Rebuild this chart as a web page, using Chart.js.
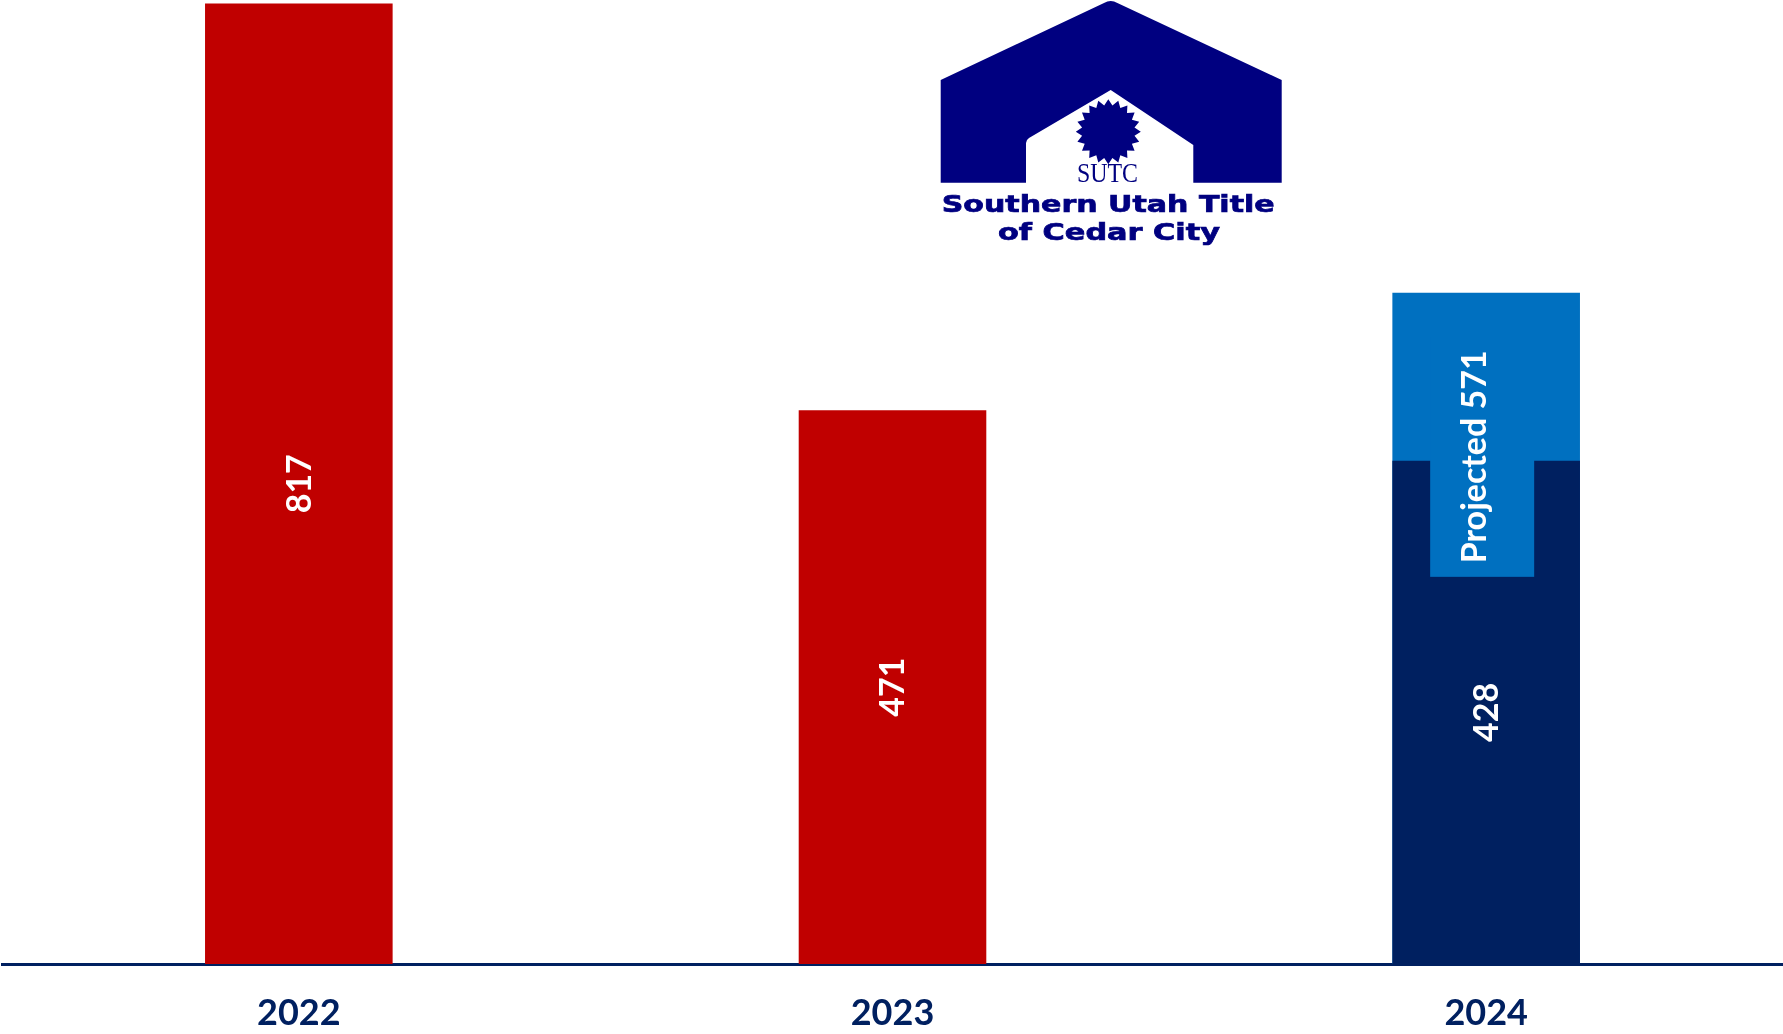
<!DOCTYPE html>
<html>
<head>
<meta charset="utf-8">
<title>Southern Utah Title - closings</title>
<script src="https://cdn.jsdelivr.net/npm/chart.js@4.4.1/dist/chart.umd.min.js"></script>
<style>
html, body { margin: 0; padding: 0; background: #fff; }
#wrap { position: relative; width: 1783px; height: 1034px; }
#logo { position: absolute; left: 0; top: 0; pointer-events: none; }
</style>
</head>
<body>
<div id="wrap">
<canvas id="bar-chart"></canvas>
<svg id="logo" width="1783" height="1034" xmlns="http://www.w3.org/2000/svg">
  <path fill="#000080" d="M940.7,182.7 L940.7,80 L1104,3 Q1110.7,-1 1117.4,3 L1281.7,80 L1281.7,182.7 L1193.3,182.7 L1193.3,145 L1110.7,90 L1029,138 Q1026,140 1026,143 L1026,182.7 Z"/>
  <polygon id="sun" fill="#000080"/>
  <text x="1077" y="181.5" font-family="Liberation Serif, serif" font-size="28" fill="#000080" textLength="61" lengthAdjust="spacingAndGlyphs">SUTC</text>
  <text x="941.7" y="211.5" font-family="DejaVu Sans, sans-serif" font-weight="bold" font-size="23" fill="#000080" stroke="#000080" stroke-width="0.7" textLength="333" lengthAdjust="spacingAndGlyphs">Southern Utah Title</text>
  <text x="998" y="239.5" font-family="DejaVu Sans, sans-serif" font-weight="bold" font-size="23" fill="#000080" stroke="#000080" stroke-width="0.7" textLength="222" lengthAdjust="spacingAndGlyphs">of Cedar City</text>
</svg>
</div>
<script>
// closings per year
var years = ["2022", "2023", "2024"];
var closings = [817, 471, 428];
var projected = [null, null, 571];
var projectedText = "Projected 571";

var red = "#C00000";
var navy = "#002060";
var blue = "#0070C0";

// sun in the logo
(function () {
  var pts = [], n = 20, cx = 1108.3, cy = 131.7;
  for (var i = 0; i < n * 2; i++) {
    var r = i % 2 ? 26.5 : 32.5;
    var a = Math.PI * i / n;
    pts.push((cx + r * Math.sin(a)).toFixed(1) + "," + (cy - r * Math.cos(a)).toFixed(1));
  }
  document.getElementById("sun").setAttribute("points", pts.join(" "));
})();

var labelFont = "bold 34px Lato, 'Open Sans', sans-serif";

var barLabels = {
  id: "barLabels",
  afterDatasetsDraw: function (chart) {
    var ctx = chart.ctx;
    var actual = chart.getDatasetMeta(0).data;
    var proj = chart.getDatasetMeta(1).data;
    ctx.save();
    ctx.font = labelFont;
    ctx.fillStyle = "#fff";
    ctx.textAlign = "center";
    ctx.textBaseline = "middle";

    // projected label sits on top of the actual bar, with its own box
    proj.forEach(function (bar, i) {
      if (projected[i] == null) return;
      var cy = actual[i].y - 4;
      ctx.fillStyle = blue;
      ctx.fillRect(bar.x - 56, cy - 120, 104, 240);
      ctx.fillStyle = "#fff";
      ctx.save();
      ctx.translate(bar.x - 11, cy);
      ctx.rotate(-Math.PI / 2);
      ctx.fillText(projectedText, 0, 0);
      ctx.restore();
    });

    actual.forEach(function (bar, i) {
      ctx.save();
      ctx.translate(bar.x + 1, (bar.y + bar.base) / 2);
      ctx.rotate(-Math.PI / 2);
      ctx.fillText(String(closings[i]), 0, 0);
      ctx.restore();
    });
    ctx.restore();
  }
};

var ctx = document.getElementById("bar-chart");
var chartGraph = new Chart(ctx, {
  type: "bar",
  data: {
    labels: years,
    datasets: [{
      label: "Closings",
      data: closings,
      backgroundColor: [red, red, navy],
      borderWidth: 0
    }, {
      label: "Projected",
      data: projected,
      backgroundColor: blue,
      borderWidth: 0
    }]
  },
  options: {
    responsive: true,
    maintainAspectRatio: false,
    animation: false,
    layout: { padding: { left: 2 } },
    datasets: { bar: { categoryPercentage: 1, barPercentage: 0.316 } },
    plugins: { legend: { display: false }, tooltip: { enabled: false } },
    scales: {
      x: {
        stacked: true,
        grid: { display: false, drawTicks: false },
        border: { display: true, color: navy, width: 3 },
        ticks: {
          color: navy,
          padding: 28,
          font: { family: "Lato, sans-serif", size: 36, weight: "bold" }
        },
        afterFit: function (s) { s.height = 70; }
      },
      y: { display: false, stacked: false, min: 0, max: 820 }
    }
  },
  plugins: [barLabels]
});
</script>
</body>
</html>
